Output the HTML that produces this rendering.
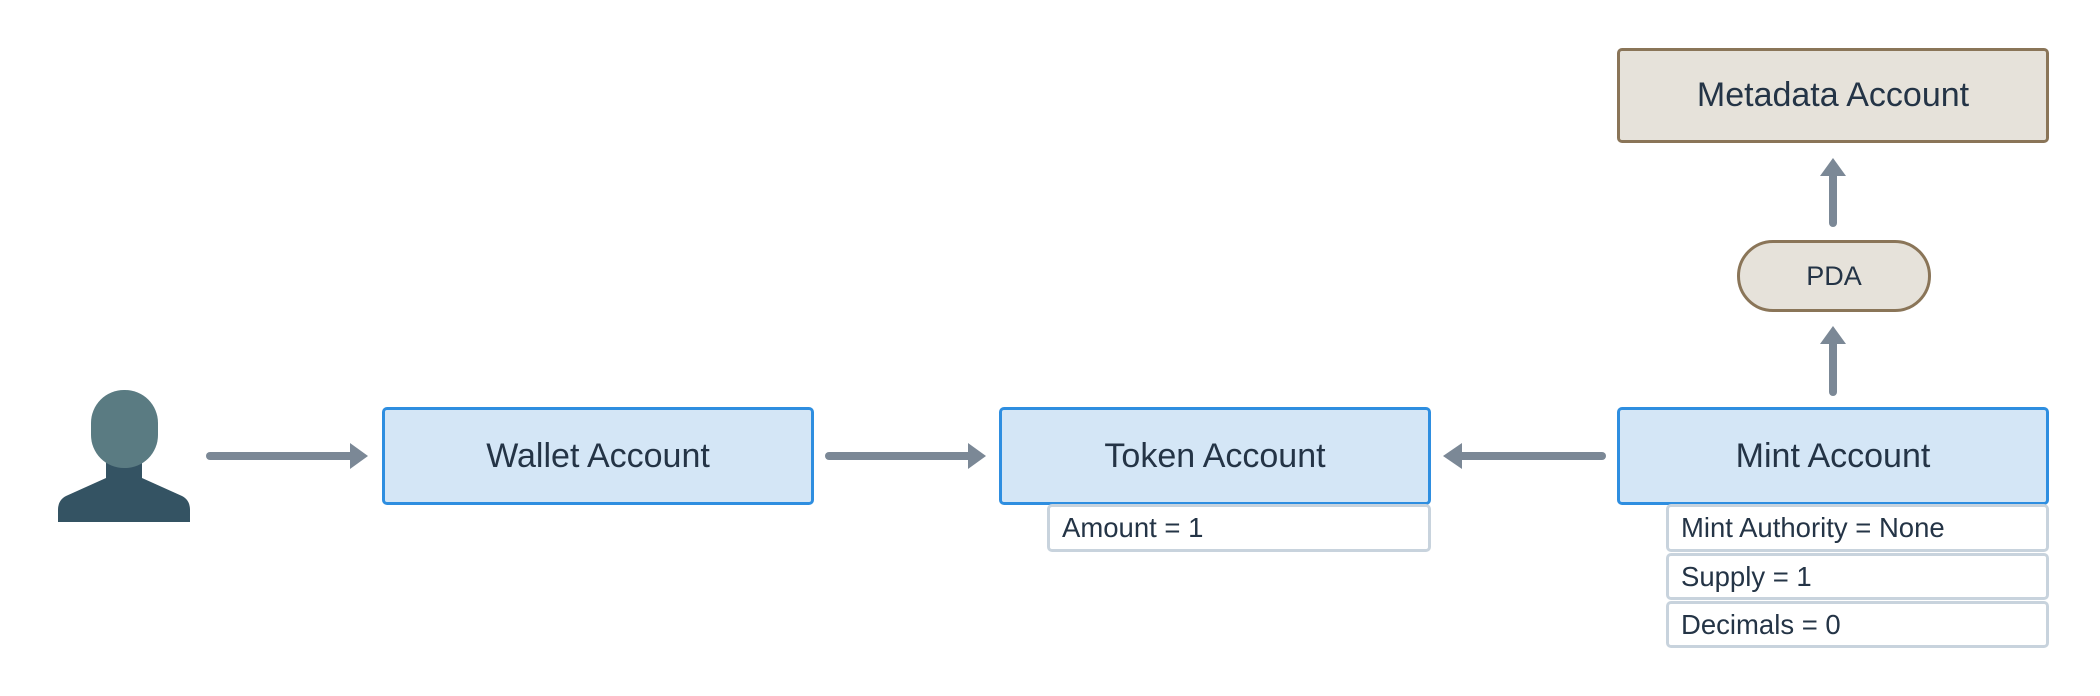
<!DOCTYPE html>
<html><head><style>
body{margin:0;width:2100px;height:696px;background:#fff;position:relative;overflow:hidden;font-family:"Liberation Sans",sans-serif;color:#243446}
.b{position:absolute;box-sizing:border-box;display:flex;align-items:center;justify-content:center;font-size:34px;border-radius:5px}
.blue{background:#d4e6f6;border:3px solid #2e8ee0}
.beige{background:#e6e2da;border:3px solid #8a7558}
.s{position:absolute;box-sizing:border-box;background:#fff;border:3px solid #c8d3dd;border-radius:5px;font-size:27.5px;padding-left:12px;display:flex;align-items:center}
</style></head><body>
<svg width="2100" height="696" style="position:absolute;left:0;top:0">
<g fill="#7b8896" stroke="#7b8896" stroke-width="8" stroke-linecap="round">
<line x1="210" y1="456" x2="352" y2="456"/>
<line x1="829" y1="456" x2="970" y2="456"/>
<line x1="1602" y1="456" x2="1460" y2="456"/>
<line x1="1833" y1="392" x2="1833" y2="340"/>
<line x1="1833" y1="223" x2="1833" y2="172"/>
</g>
<g fill="#7b8896">
<polygon points="350,443 368,456 350,469"/>
<polygon points="968,443 986,456 968,469"/>
<polygon points="1462,443 1443,456 1462,469"/>
<polygon points="1820,344 1833,326 1846,344"/>
<polygon points="1820,176 1833,158 1846,176"/>
</g>
<rect x="106" y="455" width="36" height="30" fill="#345363"/>
<path d="M106,478 L66,496 Q58,500 58,510 L58,522 L190,522 L190,510 Q190,500 182,496 L142,478 Z" fill="#345363"/>
<rect x="91" y="390" width="67" height="78" rx="33" fill="#5a7b82"/>
</svg>
<div class="b blue" style="left:382px;top:407px;width:432px;height:98px">Wallet Account</div>
<div class="b blue" style="left:999px;top:407px;width:432px;height:98px">Token Account</div>
<div class="s" style="left:1047px;top:504px;width:384px;height:48px">Amount = 1</div>
<div class="b blue" style="left:1617px;top:407px;width:432px;height:98px">Mint Account</div>
<div class="s" style="left:1666px;top:504px;width:383px;height:48px">Mint Authority = None</div>
<div class="s" style="left:1666px;top:553px;width:383px;height:47px">Supply = 1</div>
<div class="s" style="left:1666px;top:601px;width:383px;height:47px">Decimals = 0</div>
<div class="b beige" style="left:1737px;top:240px;width:194px;height:72px;border-radius:36px;font-size:27px">PDA</div>
<div class="b beige" style="left:1617px;top:48px;width:432px;height:95px">Metadata Account</div>
</body></html>
